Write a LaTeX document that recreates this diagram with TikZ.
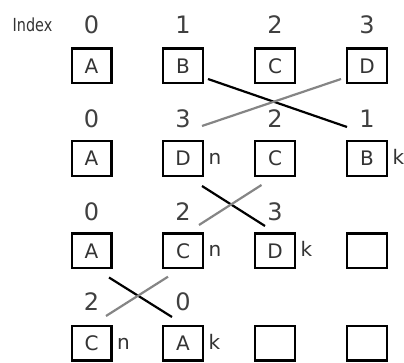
\documentclass[tikz,border=0pt]{standalone}
\usepackage{fontspec}
\setmainfont{DejaVu Sans}
\newfontfamily\idxfont{DejaVu Sans}[FakeStretch=0.8]

\begin{document}
\begin{tikzpicture}[x=1pt,y=-1pt,
  cell/.style={draw=black,line width=2.2pt,minimum width=39.8pt,minimum height=34.8pt,
    inner sep=0pt,font=\fontsize{20}{20}\selectfont,text=black!80},
  num/.style={font=\fontsize{24}{24}\selectfont,text=black!75,inner sep=0pt},
  tag/.style={font=\fontsize{20}{20}\selectfont,text=black!80,inner sep=0pt,anchor=base west},
  swapdown/.style={line width=2.2pt,draw=black},
  swapup/.style={line width=2.2pt,draw=black!48}]
\useasboundingbox (0,0) rectangle (404,363);

% column header
\node[inner sep=0pt,font=\idxfont\fontsize{18}{18}\selectfont,text=black!80] (idx) at (32.5,24.5) {Index};

% row 1
\node[num] (n10) at (91.5,25) {0};
\node[num] (n11) at (183,25) {1};
\node[num] (n12) at (275,25) {2};
\node[num] (n13) at (367,25) {3};
\node[cell] (r1a) at (91.5,66) {A};
\node[cell] (r1b) at (183,66) {B};
\node[cell] (r1c) at (275,66) {C};
\node[cell] (r1d) at (367,66) {D};

% row 2
\node[num] (n20) at (91.5,119) {0};
\node[num] (n21) at (183,119) {3};
\node[num] (n22) at (275,119) {2};
\node[num] (n23) at (367,119) {1};
\node[cell] (r2a) at (91.5,158.5) {A};
\node[cell] (r2b) at (183,158.5) {D};
\node[cell] (r2c) at (275,158.5) {C};
\node[cell] (r2d) at (367,158.5) {B};
\node[tag] (t2n) at ([xshift=4.5pt,yshift=-6pt]r2b.east) {n};
\node[tag] (t2k) at ([xshift=4.5pt,yshift=-6pt]r2d.east) {k};

% row 3
\node[num] (n30) at (91.5,212) {0};
\node[num] (n31) at (183,212) {2};
\node[num] (n32) at (275,212) {3};
\node[cell] (r3a) at (91.5,251) {A};
\node[cell] (r3b) at (183,251) {C};
\node[cell] (r3c) at (275,251) {D};
\node[cell] (r3d) at (367,251) {};
\node[tag] (t3n) at ([xshift=4.5pt,yshift=-6pt]r3b.east) {n};
\node[tag] (t3k) at ([xshift=4.5pt,yshift=-6pt]r3c.east) {k};

% row 4
\node[num] (n40) at (91.5,302) {2};
\node[num] (n41) at (183,302) {0};
\node[cell] (r4a) at (91.5,343) {C};
\node[cell] (r4b) at (183,343) {A};
\node[cell] (r4c) at (275,343) {};
\node[cell] (r4d) at (367,343) {};
\node[tag] (t4n) at ([xshift=4.5pt,yshift=-6pt]r4a.east) {n};
\node[tag] (t4k) at ([xshift=4.5pt,yshift=-6pt]r4b.east) {k};

% swap strokes between rows
\coordinate (s1a) at (208,79);    \coordinate (e1a) at (347,127);
\coordinate (s1b) at (341,79);    \coordinate (e1b) at (202,126);
\coordinate (s2a) at (202,186);   \coordinate (e2a) at (265,226);
\coordinate (s2b) at (261.5,185); \coordinate (e2b) at (199,225);
\coordinate (s3a) at (109,277.5); \coordinate (e3a) at (172,317);
\coordinate (s3b) at (168,276.7); \coordinate (e3b) at (106,316);

\draw[swapdown] (s1a) -- (e1a);
\draw[swapup]   (s1b) -- (e1b);
\draw[swapdown] (s2a) -- (e2a);
\draw[swapup]   (s2b) -- (e2b);
\draw[swapdown] (s3a) -- (e3a);
\draw[swapup]   (s3b) -- (e3b);
\end{tikzpicture}
\end{document}
